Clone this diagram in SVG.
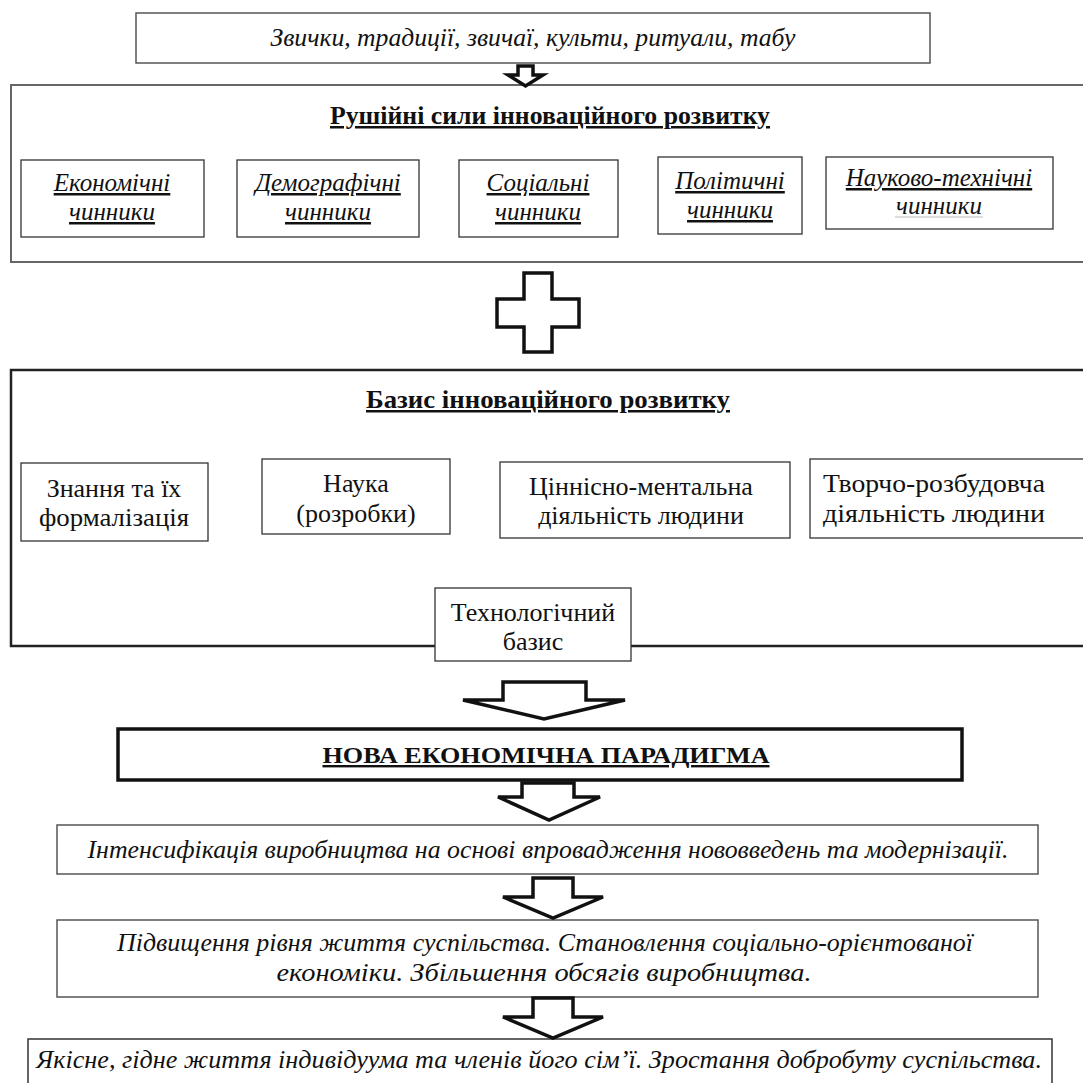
<svg xmlns="http://www.w3.org/2000/svg" width="1083" height="1083" viewBox="0 0 1083 1083">
<style>
.box{fill:#fff;stroke:#333;stroke-width:1.3}
.t{font-family:"Liberation Serif","Times New Roman",serif;font-size:24px;fill:#111;text-anchor:middle}
.i{font-style:italic}
.u{text-decoration:underline}
.b{font-weight:bold}
.r1{font-size:25px}
.r2{font-size:26px}
.c{font-size:26px}
.arr{fill:#fff;stroke:#111;stroke-width:3.5;stroke-linejoin:miter}
</style>
<rect width="1083" height="1083" fill="#fff"/>
<g id="top">
<rect x="136" y="13" width="794" height="50" fill="#fff" stroke="#555" stroke-width="1.5"/>
<text class="t i c" x="533" y="46" textLength="525" lengthAdjust="spacingAndGlyphs">Звички, традиції, звичаї, культи, ритуали, табу</text>
</g>
<g id="drivers">
<rect x="11" y="85" width="1090" height="177" fill="#fff" stroke="#666" stroke-width="2"/>
<text class="t b u" x="550" y="124" style="font-size:25px" textLength="440" lengthAdjust="spacingAndGlyphs">Рушійні сили інноваційного розвитку</text>
</g>
<g id="econ"><rect class="box" x="21" y="160" width="183" height="77"/>
<text class="t i u r1" x="112" y="191">Економічні</text><text class="t i u r1" x="112" y="220">чинники</text></g>
<g id="demo"><rect class="box" x="237" y="160" width="182" height="77"/>
<text class="t i u r1" x="328" y="191">Демографічні</text><text class="t i u r1" x="328" y="220">чинники</text></g>
<g id="soc"><rect class="box" x="459" y="160" width="159" height="77"/>
<text class="t i u r1" x="538" y="191">Соціальні</text><text class="t i u r1" x="538" y="220">чинники</text></g>
<g id="pol"><rect class="box" x="658" y="157" width="144" height="77"/>
<text class="t i u r1" x="730" y="189">Політичні</text><text class="t i u r1" x="730" y="218">чинники</text></g>
<g id="sci"><rect class="box" x="826" y="157" width="227" height="72"/>
<text class="t i u r1" x="939" y="186">Науково-технічні</text><text class="t i r1" x="939" y="214">чинники</text>
<line x1="895" y1="217" x2="983" y2="217" stroke="#bbb" stroke-width="1"/></g>
<g id="basis">
<rect x="11" y="370" width="1090" height="276" fill="#fff" stroke="#222" stroke-width="2.5"/>
<text class="t b u" x="548" y="408" style="font-size:25px" textLength="364" lengthAdjust="spacingAndGlyphs">Базис інноваційного розвитку</text>
</g>
<g id="know"><rect class="box" x="21" y="463" width="187" height="78"/>
<text class="t r2" x="114" y="497">Знання та їх</text><text class="t r2" x="114" y="526" textLength="150" lengthAdjust="spacingAndGlyphs">формалізація</text></g>
<g id="science"><rect class="box" x="262" y="459" width="188" height="75"/>
<text class="t r2" x="356" y="492">Наука</text><text class="t r2" x="356" y="522">(розробки)</text></g>
<g id="value"><rect class="box" x="500" y="462" width="290" height="76"/>
<text class="t r2" x="641" y="495">Ціннісно-ментальна</text><text class="t r2" x="641" y="524">діяльність людини</text></g>
<g id="creative"><rect class="box" x="810" y="459" width="290" height="79"/>
<text class="t r2" x="934" y="492" textLength="222" lengthAdjust="spacingAndGlyphs">Творчо-розбудовча</text><text class="t r2" x="934" y="522" textLength="222" lengthAdjust="spacingAndGlyphs">діяльність людини</text></g>
<g id="tech"><rect class="box" x="435" y="588" width="196" height="73"/>
<text class="t r2" x="533" y="621">Технологічний</text><text class="t r2" x="533" y="650">базис</text></g>
<g id="paradigm"><rect x="118" y="729" width="844" height="51" fill="#fff" stroke="#111" stroke-width="3.5"/>
<text class="t b u" x="546" y="763" textLength="447" lengthAdjust="spacingAndGlyphs">НОВА ЕКОНОМІЧНА ПАРАДИГМА</text></g>
<g id="intens"><rect x="57" y="825" width="981" height="49" fill="#fff" stroke="#555" stroke-width="1.5"/>
<text class="t i c" x="548" y="858" textLength="921" lengthAdjust="spacingAndGlyphs">Інтенсифікація виробництва на основі впровадження нововведень та модернізації.</text></g>
<g id="living"><rect x="57" y="920" width="981" height="77" fill="#fff" stroke="#555" stroke-width="1.5"/>
<text class="t i c" x="545" y="951" textLength="856" lengthAdjust="spacingAndGlyphs">Підвищення рівня життя суспільства. Становлення соціально-орієнтованої</text>
<text class="t i c" x="544" y="981" textLength="535" lengthAdjust="spacingAndGlyphs">економіки. Збільшення обсягів виробництва.</text></g>
<g id="life"><rect x="28" y="1039" width="1024" height="60" fill="#fff" stroke="#333" stroke-width="1.5"/>
<text class="t i c" x="539" y="1068" textLength="1006" lengthAdjust="spacingAndGlyphs">Якісне, гідне життя індивідуума та членів його сім’ї. Зростання добробуту суспільства.</text></g>
<g id="connectors">
<path class="arr" stroke-width="2.5" d="M518,66 H533 V75 H543 L525.5,86 L508,75 H518 Z"/>
<path class="arr" d="M524,273 H552 V299 H579 V327 H552 V352 H524 V327 H497 V299 H524 Z"/>
<path class="arr" d="M503,682 H586 V700 H625 L544,719 L463,700 H503 Z"/>
<path class="arr" d="M522,783 H574 V797 H600 L549,820 L498,797 H522 Z"/>
<path class="arr" d="M533,878 H573 V897 H603 L553,918 L503,897 H533 Z"/>
<path class="arr" d="M533,998 H573 V1017 H603 L553,1038 L503,1017 H533 Z"/>
</g>
</svg>
